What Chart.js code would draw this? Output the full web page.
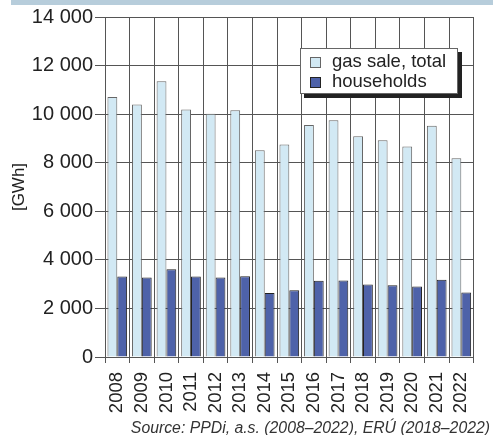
<!DOCTYPE html>
<html>
<head>
<meta charset="utf-8">
<script src="https://cdn.jsdelivr.net/npm/chart.js@4/dist/chart.umd.min.js"></script>
<style>
  html, body { margin: 0; padding: 0; background: #fff; }
  #wrap { position: relative; width: 493px; height: 435px; }
</style>
</head>
<body>
<div id="wrap"><canvas id="chart" width="493" height="435"></canvas></div>
<script>
// data
const years = ['2008', '2009', '2010', '2011', '2012', '2013', '2014', '2015',
               '2016', '2017', '2018', '2019', '2020', '2021', '2022'];
const gasSaleTotal = [10710, 10400, 11350, 10190, 10020, 10160, 8510, 8750,
                      9550, 9750, 9090, 8920, 8670, 9520, 8180];
const households = [3310, 3270, 3610, 3310, 3270, 3330, 2640, 2750,
                    3140, 3150, 2990, 2950, 2900, 3180, 2660];
const yTicks = [0, 2000, 4000, 6000, 8000, 10000, 12000, 14000];

const sourceText = 'Source: PPDi, a.s. (2008\u20132022), ER\u00da (2018\u20132022)';
const FONT = '"Liberation Sans", Arial, sans-serif';

function fmt(v) {
    return String(v).replace(/\B(?=(\d{3})+(?!\d))/g, ' ');
}

// top band, legend box and source note
const decorations = {
    id: 'decorations',
    beforeDraw(chart) {
        const ctx = chart.ctx;
        ctx.save();
        ctx.fillStyle = '#b7cddb';
        ctx.fillRect(11, 0, 482, 5);
        ctx.restore();
    },
    afterDraw(chart) {
        const ctx = chart.ctx;
        ctx.save();
        // legend
        const lx = 300, ly = 48, lw = 158, lh = 46;
        ctx.fillStyle = '#222';
        ctx.fillRect(lx + 4, ly + 4, lw, lh);
        ctx.fillStyle = '#fff';
        ctx.fillRect(lx, ly, lw, lh);
        ctx.strokeStyle = '#666';
        ctx.lineWidth = 1;
        ctx.strokeRect(lx + 0.5, ly + 0.5, lw - 1, lh - 1);
        ctx.font = '18.5px ' + FONT;
        ctx.textBaseline = 'middle';
        chart.data.datasets.forEach((ds, i) => {
            const y = ly + 14 + i * 20;
            ctx.fillStyle = ds.backgroundColor;
            ctx.fillRect(lx + 10, y - 5, 11, 11);
            ctx.strokeStyle = ds.borderColor;
            ctx.strokeRect(lx + 10.5, y - 4.5, 10, 10);
            ctx.fillStyle = '#222';
            ctx.fillText(ds.label, lx + 32, y);
        });
        // source
        ctx.font = 'italic 15.8px ' + FONT;
        ctx.fillStyle = '#333';
        ctx.textAlign = 'right';
        ctx.textBaseline = 'alphabetic';
        ctx.fillText(sourceText, 490, 433);
        ctx.restore();
    }
};

new Chart(document.getElementById('chart'), {
    type: 'bar',
    data: {
        labels: years,
        datasets: [
            {
                label: 'gas sale, total',
                data: gasSaleTotal,
                backgroundColor: '#d2e9f4',
                borderColor: '#666',
                borderWidth: 1
            },
            {
                label: 'households',
                data: households,
                backgroundColor: '#4e62a9',
                borderColor: '#222',
                borderWidth: 1
            }
        ]
    },
    plugins: [decorations],
    options: {
        responsive: false,
        animation: false,
        devicePixelRatio: 1,
        layout: { padding: { top: 17, right: 15, left: 0, bottom: 0 } },
        datasets: { bar: { categoryPercentage: 0.8, barPercentage: 1.0 } },
        plugins: {
            legend: { display: false },
            tooltip: { enabled: false }
        },
        scales: {
            x: {
                grid: { color: '#555', lineWidth: 1, tickLength: 6, offset: true },
                border: { color: '#555' },
                ticks: {
                    color: '#222',
                    font: { family: FONT, size: 18.5 },
                    minRotation: 90,
                    maxRotation: 90,
                    padding: 9,
                    autoSkip: false
                },
                afterFit(scale) { scale.height = 78; }
            },
            y: {
                min: 0,
                max: 14000,
                grid: { color: '#555', lineWidth: 1, tickLength: 10 },
                border: { color: '#555' },
                afterBuildTicks(scale) {
                    scale.ticks = yTicks.map(v => ({ value: v }));
                },
                ticks: {
                    color: '#222',
                    font: { family: FONT, size: 20 },
                    padding: 2,
                    callback: v => fmt(v)
                },
                title: {
                    display: true,
                    text: '[GWh]',
                    color: '#222',
                    font: { family: FONT, size: 17 },
                    padding: { top: 9, bottom: 0 }
                },
                afterFit(scale) { scale.width = 105; }
            }
        }
    }
});
</script>
</body>
</html>
